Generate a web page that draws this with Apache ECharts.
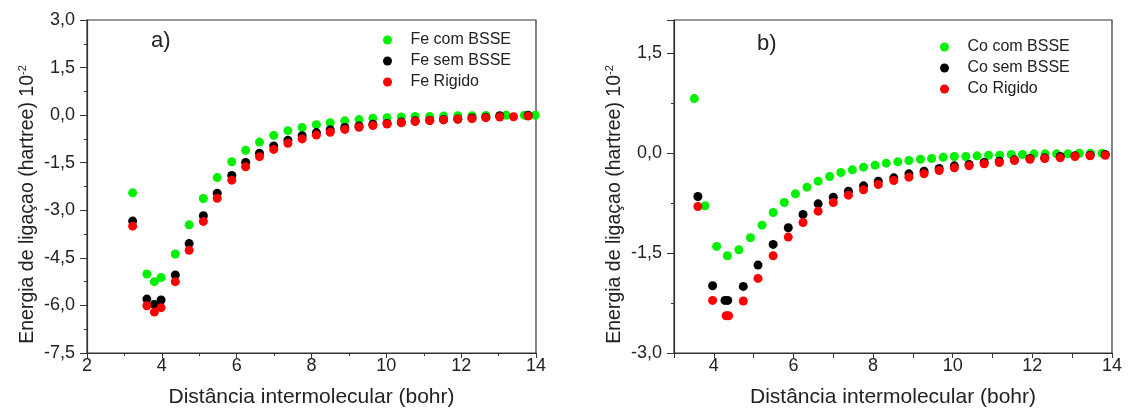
<!DOCTYPE html>
<html>
<head>
<meta charset="utf-8">
<script src="https://cdn.jsdelivr.net/npm/echarts@6/dist/echarts.min.js"></script>
<style>
html,body{margin:0;padding:0;background:#fff;}
#chart{width:1134px;height:409px;}
</style>
</head>
<body>
<div id="chart"></div>
<script>
// ---- Panel a) Fe ----
const feComX = [3.22,3.60,3.80,3.98,4.36,4.73,5.11,5.48,5.87,6.24,6.61,6.99,7.37,7.75,8.13,8.50,8.89,9.27,9.64,10.02,10.40,10.77,11.16,11.53,11.91,12.29,12.66,13.20,13.69,13.98];
const feComY = [-2.45,-5.01,-5.25,-5.12,-4.38,-3.46,-2.63,-1.97,-1.47,-1.11,-0.85,-0.64,-0.49,-0.39,-0.30,-0.24,-0.18,-0.14,-0.10,-0.08,-0.06,-0.04,-0.04,-0.03,-0.02,-0.02,-0.01,0,0,0];
const feSemX = [3.22,3.60,3.80,3.98,4.36,4.73,5.11,5.48,5.87,6.24,6.61,6.99,7.37,7.75,8.13,8.50,8.89,9.27,9.64,10.02,10.40,10.77,11.16,11.53,11.91,12.29,12.66,13.03,13.79];
const feSemY = [-3.34,-5.80,-5.97,-5.83,-5.04,-4.05,-3.17,-2.46,-1.90,-1.49,-1.20,-0.97,-0.79,-0.65,-0.55,-0.46,-0.39,-0.34,-0.29,-0.26,-0.22,-0.18,-0.16,-0.14,-0.12,-0.09,-0.07,-0.02,0.0];
const feRigX = [3.22,3.60,3.80,3.98,4.36,4.73,5.11,5.48,5.87,6.24,6.61,6.99,7.37,7.75,8.13,8.50,8.89,9.27,9.64,10.02,10.40,10.77,11.16,11.53,11.91,12.29,12.66,13.03,13.40,13.79];
const feRigY = [-3.50,-6.01,-6.21,-6.07,-5.25,-4.26,-3.35,-2.62,-2.05,-1.63,-1.31,-1.08,-0.89,-0.75,-0.63,-0.54,-0.45,-0.38,-0.33,-0.28,-0.24,-0.20,-0.17,-0.15,-0.13,-0.11,-0.08,-0.06,-0.05,-0.03];

// ---- Panel b) Co ----
const coComX = [3.51,3.78,4.07,4.34,4.63,4.92,5.21,5.49,5.77,6.05,6.34,6.62,6.91,7.19,7.48,7.76,8.05,8.33,8.62,8.90,9.19,9.47,9.76,10.04,10.33,10.61,10.90,11.18,11.47,11.75,12.04,12.32,12.61,12.89,13.18,13.46,13.75,14.02];
const coComY = [0.82,-0.79,-1.40,-1.54,-1.45,-1.27,-1.08,-0.89,-0.74,-0.61,-0.51,-0.42,-0.35,-0.29,-0.25,-0.21,-0.18,-0.15,-0.13,-0.11,-0.09,-0.08,-0.06,-0.05,-0.05,-0.04,-0.03,-0.03,-0.02,-0.02,-0.01,-0.01,-0.01,-0.01,0,0,0,0];
const coSemX = [3.60,3.97,4.28,4.35,4.74,5.11,5.49,5.87,6.24,6.62,7.00,7.38,7.76,8.13,8.52,8.90,9.28,9.66,10.04,10.41,10.79,11.17,11.55,11.94,12.31,12.70,13.07,13.45,13.83];
const coSemY = [-0.65,-1.99,-2.21,-2.21,-2.00,-1.68,-1.37,-1.12,-0.92,-0.76,-0.66,-0.57,-0.49,-0.42,-0.37,-0.31,-0.27,-0.23,-0.19,-0.17,-0.14,-0.12,-0.10,-0.08,-0.07,-0.05,-0.04,-0.03,-0.02];
const coRigX = [3.60,3.97,4.31,4.37,4.74,5.11,5.49,5.87,6.24,6.62,7.00,7.38,7.76,8.13,8.52,8.90,9.28,9.66,10.04,10.41,10.79,11.17,11.55,11.94,12.31,12.70,13.07,13.45,13.83];
const coRigY = [-0.80,-2.21,-2.44,-2.44,-2.22,-1.88,-1.54,-1.26,-1.04,-0.87,-0.74,-0.63,-0.55,-0.47,-0.41,-0.36,-0.31,-0.26,-0.22,-0.19,-0.16,-0.14,-0.11,-0.09,-0.08,-0.07,-0.05,-0.04,-0.03];

const seriesNamesA = ['Fe com BSSE','Fe sem BSSE','Fe Rigido'];
const seriesNamesB = ['Co com BSSE','Co sem BSSE','Co Rigido'];
const panelLabels = ['a)','b)'];
const xTitle = 'Distância intermolecular (bohr)';
const yTitle = 'Energia de ligaçao (hartree) 10';
const colors = ['#00f000','#000000','#ff0000'];

function pairs(xs, ys){ return xs.map((x,i)=>[x, ys[i]]); }

const FONT = 'Liberation Sans, Arial, sans-serif';
const axisColor = '#333';
const labelColor = '#222';

function xAxisCfg(gi, min, interval, onlyEven){
  return {
    type:'value', gridIndex:gi, min:min, max:14, interval:interval,
    name:xTitle, nameLocation:'middle', nameGap:34,
    nameTextStyle:{fontFamily:FONT, fontSize:21, color:labelColor},
    axisLine:{show:true, onZero:false, lineStyle:{color:axisColor, width:1.2}},
    axisTick:{show:true, inside:false, length:5, lineStyle:{color:axisColor}},
    minorTick:{show: !onlyEven, splitNumber:2, length:3, lineStyle:{color:axisColor}},
    axisLabel:{fontFamily:FONT, fontSize:18, color:labelColor, margin:4, hideOverlap:false,
      formatter: v => (onlyEven && Math.round(v)%2!==0) ? '' : String(Math.round(v))},
    splitLine:{show:false}
  };
}
function yAxisCfg(gi, min, max, showMax){
  return {
    type:'value', gridIndex:gi, min:min, max:max, interval:1.5,
    name:yTitle + '{sup|-2}', nameLocation:'middle', nameGap:49, nameRotate:90,
    nameTextStyle:{fontFamily:FONT, fontSize:19.5, color:labelColor, padding:[0,36,0,0],
      rich:{sup:{fontFamily:FONT, fontSize:11, color:labelColor, verticalAlign:'top', padding:[0,0,10,0]}}},
    axisLine:{show:true, onZero:false, lineStyle:{color:axisColor, width:1.2}},
    axisTick:{show:true, inside:false, length:7, lineStyle:{color:axisColor}},
    minorTick:{show:true, splitNumber:2, length:3, lineStyle:{color:axisColor}},
    axisLabel:{fontFamily:FONT, fontSize:18, color:labelColor, margin:12, showMaxLabel:showMax,
      formatter: v => v.toFixed(1).replace('.',',')},
    splitLine:{show:false}
  };
}
function scatter(name, xs, ys, color, gi){
  return {type:'scatter', name:name, xAxisIndex:gi, yAxisIndex:gi, data:pairs(xs,ys),
    symbol:'circle', symbolSize:9, itemStyle:{color:color, opacity:1}, silent:true};
}
function legendCfg(names, left, top){
  return {data:names, orient:'vertical', left:left, top:top, itemWidth:36, itemHeight:9, itemGap:5,
    icon:'circle', textStyle:{fontFamily:FONT, fontSize:16, color:labelColor}, selectedMode:false};
}

const chart = echarts.init(document.getElementById('chart'), null, {renderer:'canvas'});
chart.setOption({
  backgroundColor:'#fff',
  animation:false,
  grid:[
    {left:87, top:20, width:449, height:333, containLabel:false, outerBoundsMode:'none', show:true, borderColor:axisColor, borderWidth:1.2, backgroundColor:'transparent'},
    {left:674, top:20, width:438, height:333, containLabel:false, outerBoundsMode:'none', show:true, borderColor:axisColor, borderWidth:1.2, backgroundColor:'transparent'}
  ],
  xAxis:[ xAxisCfg(0, 2, 2, false), xAxisCfg(1, 3, 1, true) ],
  yAxis:[ yAxisCfg(0, -7.5, 3, true), yAxisCfg(1, -3, 2, false) ],
  legend:[ legendCfg(seriesNamesA, 378, 27), legendCfg(seriesNamesB, 935, 34) ],
  graphic:[
    {type:'text', left:151, top:30, style:{text:panelLabels[0], font:'22px '+FONT, fill:labelColor}},
    {type:'text', left:757, top:33, style:{text:panelLabels[1], font:'22px '+FONT, fill:labelColor}}
  ],
  series:[
    scatter(seriesNamesA[0], feComX, feComY, colors[0], 0),
    scatter(seriesNamesA[1], feSemX, feSemY, colors[1], 0),
    scatter(seriesNamesA[2], feRigX, feRigY, colors[2], 0),
    scatter(seriesNamesB[0], coComX, coComY, colors[0], 1),
    scatter(seriesNamesB[1], coSemX, coSemY, colors[1], 1),
    scatter(seriesNamesB[2], coRigX, coRigY, colors[2], 1)
  ]
});
</script>
</body>
</html>
